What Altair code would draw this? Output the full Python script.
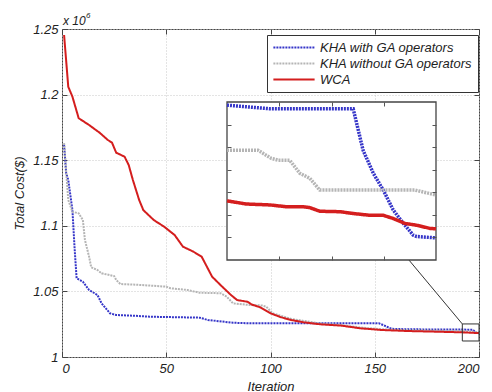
import altair as alt
import pandas as pd

SERIES = ["KHA with GA operators", "KHA without GA operators", "WCA"]
COLORS = ["#3535c8", "#b5b5b5", "#d41e1e"]
DASHES = [[2, 1], [2, 1], [1, 0]]

# ---- main curves (cost in units of 1e6 $) ----
it_ga = [1, 2, 3, 5, 6, 7, 10, 13, 17, 19, 23, 26, 34, 42, 66, 70, 82, 90, 152, 154, 158, 166, 192, 197, 198, 199, 200]
cost_ga = [1.1616, 1.140, 1.135, 1.112, 1.084, 1.060, 1.0574, 1.051, 1.0473, 1.0409, 1.0333, 1.032, 1.0315, 1.0307,
           1.030, 1.0282, 1.0261, 1.0257, 1.0257, 1.0244, 1.0215, 1.0211, 1.0209, 1.0208, 1.0194, 1.0184, 1.0180]

it_nga = [1, 3, 5, 8, 10, 11, 13, 14, 17, 19, 25, 26, 28, 38, 50, 52, 60, 66, 76, 79, 82, 90, 96, 98, 101, 110, 124,
          134, 143, 153, 166, 182, 192, 200]
cost_nga = [1.163, 1.1197, 1.1107, 1.1095, 1.1044, 1.0892, 1.0764, 1.0684, 1.0663, 1.0638, 1.0617, 1.0587, 1.0556,
            1.0549, 1.0536, 1.0524, 1.0511, 1.049, 1.0486, 1.046, 1.0409, 1.0396, 1.0393, 1.0383, 1.0333, 1.0290,
            1.0255, 1.0243, 1.0225, 1.0212, 1.0205, 1.0201, 1.0199, 1.0189]

it_wca = [1, 3, 5, 8, 13, 18, 22, 24, 26, 30, 32, 34, 37, 39, 44, 49, 54, 58, 63, 67, 72, 76, 81, 84, 89, 91, 95,
          100, 105, 110, 116, 124, 134, 143, 153, 166, 182, 192, 200]
cost_wca = [1.2454, 1.206, 1.1984, 1.182, 1.1768, 1.171, 1.1654, 1.1633, 1.1557, 1.1527, 1.1463, 1.1349, 1.1197,
            1.112, 1.1044, 1.0993, 1.093, 1.0841, 1.0803, 1.0764, 1.0612, 1.0549, 1.0473, 1.0434, 1.0421, 1.0400,
            1.0379, 1.0333, 1.0303, 1.0282, 1.0264, 1.0249, 1.0239, 1.0219, 1.0206, 1.0198, 1.0192, 1.0188, 1.0182]

# ---- zoomed inset curves ----
in_it_ga = [192, 193.64, 196.83, 197.21, 197.60, 197.98, 198.36, 198.75, 199.13, 199.26, 200]
in_cost_ga = [1.02093, 1.02085, 1.02085, 1.01993, 1.01942, 1.01905, 1.01861, 1.01831, 1.01805, 1.01802, 1.01799]
in_it_nga = [192, 193.19, 193.70, 193.96, 194.40, 194.79, 195.17, 195.55, 199.19, 200]
in_cost_nga = [1.01993, 1.01993, 1.01975, 1.01971, 1.01971, 1.01942, 1.01931, 1.01905, 1.01905, 1.01894]
in_it_wca = [192, 192.74, 193.64, 194.27, 194.91, 195.17, 195.55, 196.32, 196.83, 197.47, 197.98, 198.36, 198.81,
             199.26, 199.77, 200]
in_cost_wca = [1.01881, 1.01874, 1.01872, 1.01868, 1.01868, 1.01866, 1.01858, 1.01857, 1.01853, 1.01849, 1.01849,
               1.01842, 1.01831, 1.01827, 1.01820, 1.01819]

# ---- axes / annotation values ----
x_ticks = [0, 50, 100, 150, 200]
y_ticks = [1.0, 1.05, 1.1, 1.15, 1.2, 1.25]
inset_x_domain = [192, 200]
inset_y_domain = [1.0175, 1.021]
inset_x_ticks = [194, 196, 198]
inset_y_ticks = [1.018, 1.0185, 1.019, 1.0195, 1.02, 1.0205]
zoom_box_x = [192, 200]
zoom_box_y = [1.0122, 1.0252]
connector_x = [166.4, 192]
connector_y = [1.0739, 1.0252]

FONT = "Liberation Sans"
W, H = 417, 328
INSET_PX = dict(left=165, right=374, top=73, bottom=231)


def frame(series_it, series_cost):
    rows = []
    for name, its, costs in zip(SERIES, series_it, series_cost):
        for i, c in zip(its, costs):
            rows.append({"series": name, "iter": i, "cost": c})
    return pd.DataFrame(rows)


df_main = frame([it_ga, it_nga, it_wca], [cost_ga, cost_nga, cost_wca])
df_inset = frame([in_it_ga, in_it_nga, in_it_wca], [in_cost_ga, in_cost_nga, in_cost_wca])

X_MAIN = alt.Scale(domain=[0, 200], nice=False, zero=False)
Y_MAIN = alt.Scale(domain=[1.0, 1.25], nice=False, zero=False)
X_IN = alt.Scale(domain=inset_x_domain, range=[INSET_PX["left"], INSET_PX["right"]], nice=False, zero=False)
Y_IN = alt.Scale(domain=inset_y_domain, range=[INSET_PX["bottom"], INSET_PX["top"]], nice=False, zero=False)

legend = alt.Legend(
    title=None, orient="none", legendX=205, legendY=6,
    fillColor="white", strokeColor="#333", padding=5,
    symbolType="stroke", symbolSize=1700, symbolStrokeWidth=2, clipHeight=15,
    labelFont=FONT, labelFontSize=13, labelFontStyle="italic", labelColor="#222",
    labelOffset=4, rowPadding=1, labelLimit=0,
)
color_enc = alt.Color("series:N", scale=alt.Scale(domain=SERIES, range=COLORS), legend=legend)
dash_enc = alt.StrokeDash("series:N", scale=alt.Scale(domain=SERIES, range=DASHES), legend=legend)

tick_axis = dict(labels=False, domain=False, grid=False, tickColor="#444", tickSize=5, title=None)

main = alt.Chart(df_main).mark_line(strokeWidth=2).encode(
    x=alt.X("iter:Q", scale=X_MAIN, axis=alt.Axis(
        values=x_ticks, title="Iteration", grid=True, gridDash=[1, 2], gridColor="#c8c8c8",
        ticks=False, tickSize=0, domain=False, labelPadding=5, format="d",
        labelFont=FONT, labelFontSize=13, labelFontStyle="italic", labelColor="#222",
        titleFont=FONT, titleFontSize=13, titleFontStyle="italic", titleFontWeight="normal",
        titleColor="#222", titlePadding=5)),
    y=alt.Y("cost:Q", scale=Y_MAIN, axis=alt.Axis(
        values=y_ticks, title="Total Cost($)", grid=True, gridDash=[1, 2], gridColor="#c8c8c8",
        ticks=False, tickSize=0, domain=False, labelPadding=4, format="~g",
        labelFont=FONT, labelFontSize=13, labelFontStyle="italic", labelColor="#222",
        titleFont=FONT, titleFontSize=13, titleFontStyle="italic", titleFontWeight="normal",
        titleColor="#222", titlePadding=6)),
    color=color_enc,
    strokeDash=dash_enc,
)

box_df = pd.DataFrame({"x0": [zoom_box_x[0]], "x1": [zoom_box_x[1]], "y0": [zoom_box_y[0]], "y1": [zoom_box_y[1]]})
zoom_box = alt.Chart(box_df).mark_rect(fillOpacity=0, stroke="#333", strokeWidth=1).encode(
    x=alt.X("x0:Q", scale=X_MAIN, axis=alt.Axis(orient="bottom", offset=-H, values=x_ticks, **tick_axis)),
    x2="x1:Q",
    y=alt.Y("y0:Q", scale=Y_MAIN, axis=alt.Axis(orient="left", offset=-W, values=y_ticks, **tick_axis)),
    y2="y1:Q",
)

conn_df = pd.DataFrame({"x": connector_x, "y": connector_y})
connector = alt.Chart(conn_df).mark_line(color="#333", strokeWidth=1).encode(
    x=alt.X("x:Q", scale=X_MAIN, axis=alt.Axis(orient="top", offset=-H, values=x_ticks, **tick_axis)),
    y=alt.Y("y:Q", scale=Y_MAIN, axis=alt.Axis(orient="right", offset=-W, values=y_ticks, **tick_axis)),
)

inset_axis = dict(labels=False, domain=False, grid=False, tickColor="#555", tickSize=4, title=None, zindex=1)
in_df = pd.DataFrame({"x0": [inset_x_domain[0]], "x1": [inset_x_domain[1]],
                      "y0": [inset_y_domain[0]], "y1": [inset_y_domain[1]]})
inset_bg = alt.Chart(in_df).mark_rect(fill="white", stroke="#444", strokeWidth=1.3).encode(
    x=alt.X("x0:Q", scale=X_IN, axis=alt.Axis(orient="top", offset=-INSET_PX["bottom"], values=inset_x_ticks, **inset_axis)),
    x2="x1:Q",
    y=alt.Y("y0:Q", scale=Y_IN, axis=alt.Axis(orient="left", offset=-INSET_PX["right"], values=inset_y_ticks, **inset_axis)),
    y2="y1:Q",
)

inset_lines = alt.Chart(df_inset).mark_line(strokeWidth=3.5).encode(
    x=alt.X("iter:Q", scale=X_IN, axis=alt.Axis(orient="bottom", offset=-(H - INSET_PX["top"]), values=inset_x_ticks, **inset_axis)),
    y=alt.Y("cost:Q", scale=Y_IN, axis=alt.Axis(orient="right", offset=-(W - INSET_PX["left"]), values=inset_y_ticks, **inset_axis)),
    color=color_enc,
    strokeDash=dash_enc,
)

mult = alt.Chart(pd.DataFrame({"t": ["x 10"]})).mark_text(
    font=FONT, fontSize=12, fontStyle="italic", align="left", baseline="alphabetic", color="#222"
).encode(text="t:N", x=alt.value(1), y=alt.value(-4))
expo = alt.Chart(pd.DataFrame({"t": ["6"]})).mark_text(
    font=FONT, fontSize=8, fontStyle="italic", align="left", baseline="alphabetic", color="#222"
).encode(text="t:N", x=alt.value(24), y=alt.value(-11))

chart = alt.layer(main, zoom_box, connector, inset_bg, inset_lines, mult, expo).resolve_scale(
    x="independent", y="independent"
).properties(
    width=W, height=H,
    autosize=alt.AutoSizeParams(type="none"),
    padding={"left": 62, "top": 29, "right": 13, "bottom": 35},
    background="white",
).configure_view(stroke="#444", strokeWidth=1)

chart.save("out.html", embed_options={"renderer": "svg", "actions": False})
